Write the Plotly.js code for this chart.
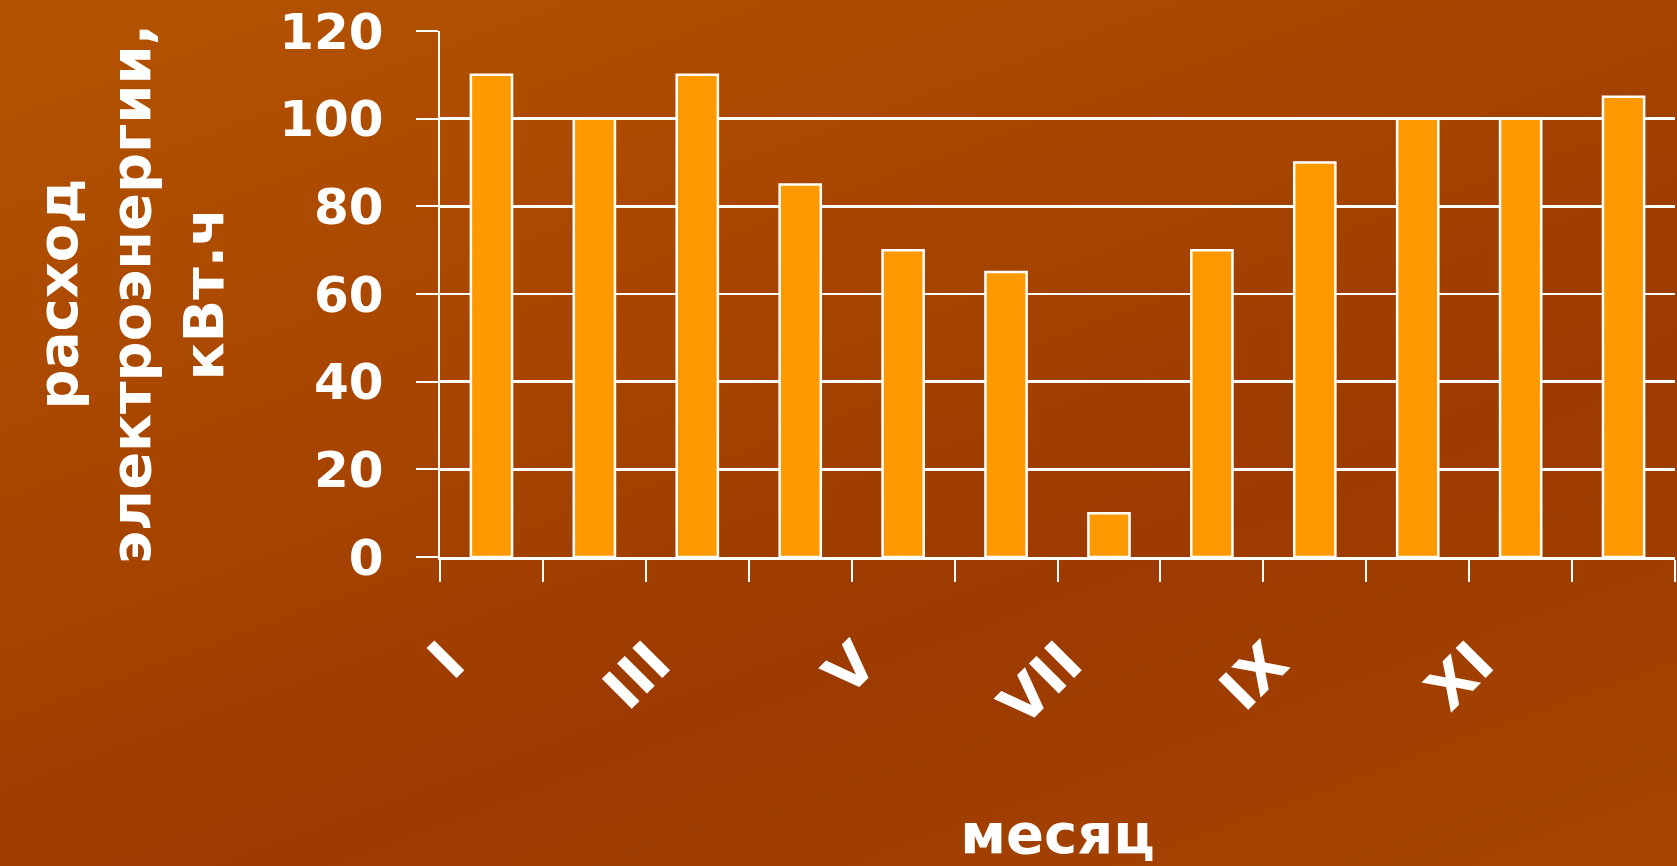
<!DOCTYPE html>
<html>
<head>
<meta charset="utf-8">
<script src="https://cdn.plot.ly/plotly-3.0.1.min.js"></script>
<style>
  html, body { margin: 0; padding: 0; }
  body { width: 1677px; height: 866px; overflow: hidden;
         background: linear-gradient(160deg, #B45400 0%, #A84600 35%, #9C3A00 65%, #A54500 100%); }
  #chart { width: 1677px; height: 866px; }
</style>
</head>
<body>
<div id="chart"></div>
<script>
const months = ['I','II','III','IV','V','VI','VII','VIII','IX','X','XI','XII'];
const monthLabels = ['I','','III','','V','','VII','','IX','','XI',''];
const usage = [110, 100, 110, 85, 70, 65, 10, 70, 90, 100, 100, 105];
const yTitle = 'расход<br>электроэнергии,<br>кВт.ч';
const xTitle = 'месяц';

const fontFamily = '"DejaVu Sans", "Liberation Sans", Arial, sans-serif';

const trace = {
  type: 'bar',
  x: months,
  y: usage,
  marker: { color: '#FF9900', line: { color: '#FFFFFF', width: 2.5 } },
  hoverinfo: 'x+y'
};

const layout = {
  width: 1677,
  height: 866,
  margin: { l: 440, r: 2, t: 31, b: 309 },
  paper_bgcolor: 'rgba(0,0,0,0)',
  plot_bgcolor: 'rgba(0,0,0,0)',
  bargap: 0.6,
  showlegend: false,
  font: { family: fontFamily, color: '#FFFFFF', size: 50, weight: 'bold' },
  xaxis: {
    type: 'category',
    tickvals: months,
    ticktext: monthLabels,
    tickson: 'boundaries',
    ticks: 'outside',
    ticklen: 22,
    tickwidth: 2,
    tickcolor: '#FFFFFF',
    tickangle: -45,
    tickfont: { family: fontFamily, size: 58, color: '#FFFFFF', weight: 'bold' },
    ticklabelstandoff: 46,
    ticklabelshift: -44,
    showline: true,
    linecolor: '#FFFFFF',
    linewidth: 2.5,
    showgrid: false,
    zeroline: false,
    automargin: false,
    title: { text: xTitle, font: { family: fontFamily, size: 56, color: '#FFFFFF', weight: 'bold' }, standoff: 100 }
  },
  yaxis: {
    range: [0, 120],
    dtick: 20,
    ticks: 'outside',
    ticklen: 22,
    tickwidth: 2,
    tickcolor: '#FFFFFF',
    tickfont: { family: fontFamily, size: 50, color: '#FFFFFF', weight: 'bold' },
    ticklabelstandoff: 22,
    showline: true,
    linecolor: '#FFFFFF',
    linewidth: 2.5,
    showgrid: true,
    gridcolor: '#FFFFFF',
    gridwidth: 2.5,
    zeroline: false,
    automargin: false,
    title: { text: yTitle, font: { family: fontFamily, size: 56, color: '#FFFFFF', weight: 'bold' }, standoff: 38 }
  }
};

Plotly.newPlot('chart', [trace], layout, { displayModeBar: false, staticPlot: true });
</script>
</body>
</html>
